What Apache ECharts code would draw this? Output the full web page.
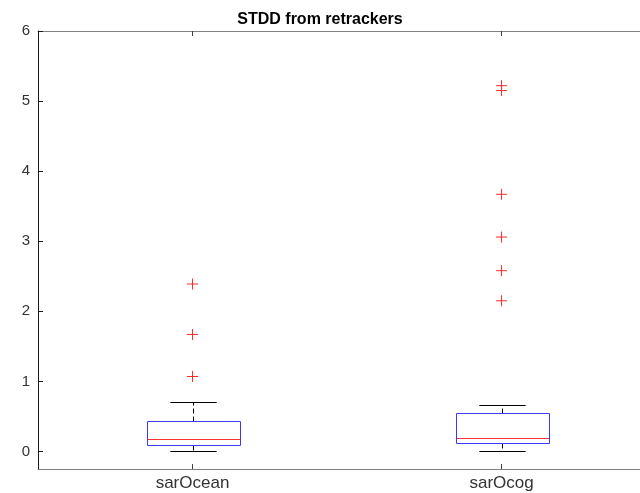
<!DOCTYPE html>
<html>
<head>
<meta charset="utf-8">
<script src="https://cdn.jsdelivr.net/npm/echarts@6/dist/echarts.min.js"></script>
<style>html,body{margin:0;padding:0;background:#fff;}#c{width:640px;height:493px;}</style>
</head>
<body>
<div id="c"></div>
<script>
const titleText = 'STDD from retrackers';
const categories = ['sarOcean', 'sarOcog'];
const categoryPos = [1, 2];
const lowerWhisker = [0.0, 0.0];
const q1 = [0.095, 0.12];
const median = [0.185, 0.19];
const q3 = [0.44, 0.548];
const upperWhisker = [0.70, 0.666];
const outliersOcean = [2.39, 1.67, 1.07];
const outliersOcog = [5.22, 5.15, 3.67, 3.06, 2.58, 2.15];
const yTicks = [0, 1, 2, 3, 4, 5, 6];

const boxData = categories.map((c, i) => [categoryPos[i], lowerWhisker[i], q1[i], median[i], q3[i], upperWhisker[i]]);
const outlierData = [];
outliersOcean.forEach(v => outlierData.push([categoryPos[0], v]));
outliersOcog.forEach(v => outlierData.push([categoryPos[1], v]));

const FONT = '"Liberation Sans", Arial, Helvetica, sans-serif';

function renderBox(params, api) {
  const xv = api.value(0);
  const x = Math.round(api.coord([xv, 0])[0]) + 0.5;
  const unit = api.size([1, 0])[0];
  const bw = Math.round(unit * 0.3), cw = unit * 0.15;
  const y = k => Math.round(api.coord([xv, api.value(k)])[1]) + 0.5;
  const yLw = y(1), yQ1 = y(2), yMed = y(3), yQ3 = y(4), yUw = y(5);
  const dash = {stroke: '#000', lineWidth: 1, lineDash: [5, 3]};
  const bl = Math.round(x - bw / 2) + 0.5;
  return {
    type: 'group',
    children: [
      {type: 'line', shape: {x1: x, y1: yQ3, x2: x, y2: yUw}, style: dash},
      {type: 'line', shape: {x1: x, y1: yQ1, x2: x, y2: yLw}, style: dash},
      {type: 'line', shape: {x1: x - cw / 2, y1: yUw, x2: x + cw / 2, y2: yUw}, style: {stroke: '#000', lineWidth: 1}},
      {type: 'line', shape: {x1: x - cw / 2, y1: yLw, x2: x + cw / 2, y2: yLw}, style: {stroke: '#000', lineWidth: 1}},
      {type: 'line', shape: {x1: bl, y1: yMed, x2: bl + bw, y2: yMed}, style: {stroke: '#ff3030', lineWidth: 1}},
      {type: 'rect', shape: {x: bl, y: yQ3, width: bw, height: yQ1 - yQ3}, style: {fill: 'none', stroke: '#3a3aff', lineWidth: 1}}
    ]
  };
}

const chart = echarts.init(document.getElementById('c'), null, {renderer: 'canvas'});
const xCommon = {
  type: 'value',
  min: 0.5,
  max: 2.448,
  axisLine: {onZero: false, lineStyle: {color: '#808080', width: 1}},
  axisTick: {inside: true, length: 5, customValues: categoryPos, lineStyle: {color: '#404040'}},
  splitLine: {show: false}
};
chart.setOption({
  backgroundColor: '#ffffff',
  animation: false,
  title: {
    text: titleText,
    left: 'center',
    top: 7,
    textStyle: {fontFamily: FONT, fontSize: 16, fontWeight: 'bold', color: '#000'}
  },
  grid: {left: 38, top: 31, right: 0, bottom: 24, containLabel: false},
  xAxis: [Object.assign({}, xCommon, {
    position: 'bottom',
    axisLabel: {fontFamily: FONT, fontSize: 17, color: '#333', margin: 6, customValues: categoryPos,
      formatter: v => categories[categoryPos.indexOf(v)] || ''}
  }), Object.assign({}, xCommon, {
    position: 'top',
    axisLabel: {show: false}
  })],
  yAxis: {
    type: 'value',
    min: -0.25,
    max: 6,
    axisLine: {show: true, onZero: false, lineStyle: {color: '#1a1a1a', width: 1}},
    axisTick: {show: true, inside: true, length: 5, customValues: yTicks, lineStyle: {color: '#1a1a1a'}},
    axisLabel: {fontFamily: FONT, fontSize: 15, color: '#333', margin: 8, customValues: yTicks},
    splitLine: {show: false}
  },
  series: [{
    type: 'custom',
    renderItem: renderBox,
    data: boxData,
    encode: {x: 0, y: [1, 2, 3, 4, 5]},
    z: 2
  }, {
    type: 'scatter',
    data: outlierData,
    symbol: 'path://M0,5L10,5M5,0L5,10',
    symbolSize: 11,
    itemStyle: {color: 'rgba(0,0,0,0)', borderColor: '#ff2a2a', borderWidth: 1, opacity: 1},
    z: 3
  }]
});
</script>
</body>
</html>
